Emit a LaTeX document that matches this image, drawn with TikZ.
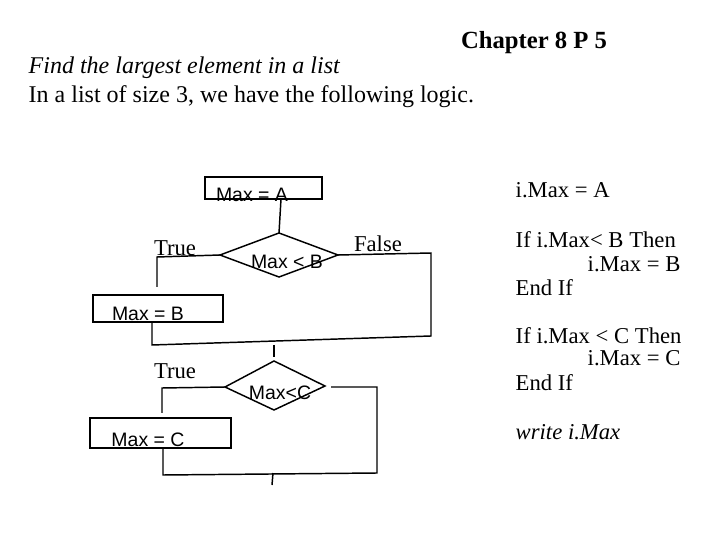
\documentclass[tikz,border=0pt]{standalone}
\usepackage{fontspec}
\setmainfont{Liberation Serif}
\usetikzlibrary{shapes.geometric}
\begin{document}
\begin{tikzpicture}[x=0.75pt,y=-0.75pt,line width=1.1pt,
 txt/.style={inner sep=0pt,font=\fontsize{17}{19}\selectfont},
 sans/.style={inner sep=0pt,font=\fontsize{14.6}{17}\selectfont\fontspec{Liberation Sans}},
 box/.style={draw,inner sep=0pt}]
\useasboundingbox (0,0) rectangle (721,541);
\node[txt,font=\fontsize{18.5}{20}\selectfont\bfseries] (title) at (534,43) {Chapter 8 P 5};
\node[txt,anchor=west,font=\fontsize{18}{20}\selectfont\itshape] (l1) at (28,68) {Find the largest element in a list};
\node[txt,anchor=west,font=\fontsize{18}{20}\selectfont] (l2) at (28,97) {In a list of size 3, we have the following logic.};
% boxes
\draw (205,177) rectangle (322,199);
\node[sans] (ta) at (252,195) {Max = A};
\draw (93,295) rectangle (223,322);
\node[sans] (tb) at (148,314) {Max = B};
\draw (90,418) rectangle (231,448);
\node[sans] (tc) at (148,440) {Max = C};
% diamonds
\draw (279,233) -- (338,255) -- (279,277) -- (220,255) -- cycle;
\node[sans] (d1) at (287,262) {Max < B};
\draw (274,361) -- (325,386) -- (274,410) -- (225,387) -- cycle;
\node[sans] (d2) at (280,393) {Max<C};
\coordinate (a1) at (281,199); \coordinate (a2) at (279,233);
\draw (a1) -- (a2);
\draw (220,255) -- (157,257) -- (157,287);
\node[txt] (t1) at (175,248) {True};
\node[txt] (f1) at (378,244) {False};
\draw (152,322) -- (152,345) -- (431,336) -- (431,253) -- (338,255);
\draw (274,345) -- (274,357);
\draw (225,387) -- (162,388) -- (162,413);
\node[txt] (t2) at (175,371) {True};
\draw (163,448) -- (163,475) -- (377,473) -- (377,387) -- (331,387);
\draw (273,473) -- (272,485);
% right text
\node[txt,anchor=west] (r1) at (515,190) {i.Max = A};
\node[txt,anchor=west] (r2) at (515,240) {If i.Max< B Then};
\node[txt,anchor=west] (r3) at (587,264) {i.Max = B};
\node[txt,anchor=west] (r4) at (515,288) {End If};
\node[txt,anchor=west] (r5) at (515,336) {If i.Max < C Then};
\node[txt,anchor=west] (r6) at (587,358) {i.Max = C};
\node[txt,anchor=west] (r7) at (515,383) {End If};
\node[txt,anchor=west,font=\fontsize{17}{19}\selectfont\itshape] (r8) at (515,432) {write i.Max};
\end{tikzpicture}
\end{document}
